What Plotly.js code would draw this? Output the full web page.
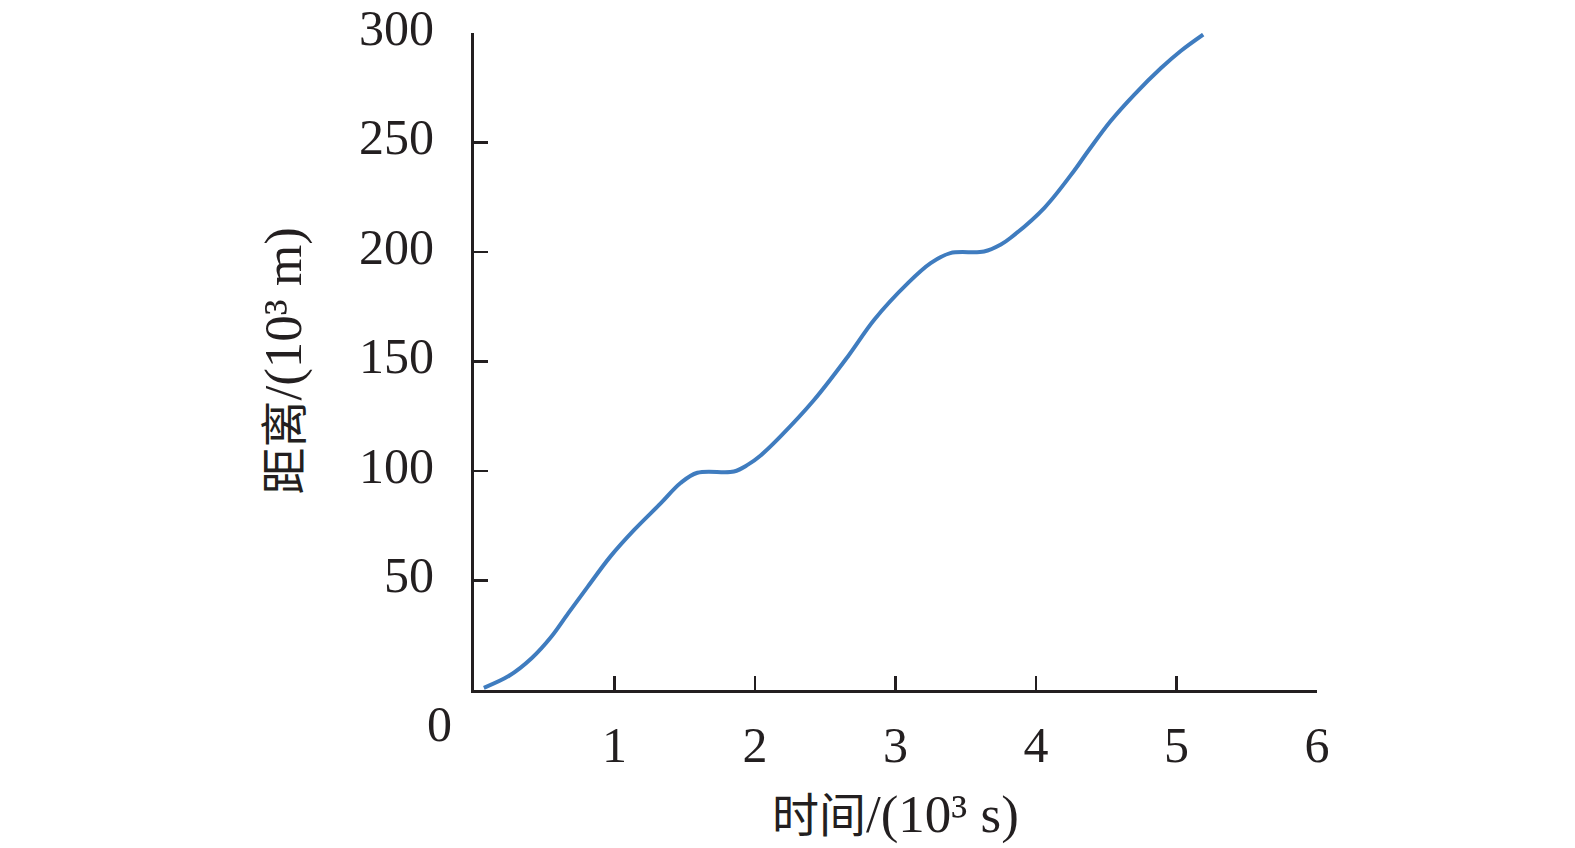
<!DOCTYPE html>
<html>
<head>
<meta charset="utf-8">
<script src="https://cdn.plot.ly/plotly-3.0.1.min.js"></script>
<style>html,body{margin:0;padding:0;background:#fff;}#chart{width:1575px;height:848px;}</style>
</head>
<body>
<div id="chart"></div>
<script>
// time (10^3 s)
const timeVals = [0.07, 0.25, 0.41, 0.55, 0.67, 0.81, 0.97, 1.14, 1.33, 1.47, 1.59, 1.85, 1.95, 2.04, 2.18, 2.42, 2.66, 2.85, 3.09, 3.25, 3.39, 3.63, 3.75, 3.82, 4.06, 4.27, 4.37, 4.53, 4.70, 4.89, 5.03, 5.19];
// distance (10^3 m)
const distVals = [1.0, 6.5, 14.5, 24.3, 35.0, 47.2, 60.9, 73.1, 85.3, 94.5, 99.2, 99.8, 102.9, 107.1, 115.7, 132.4, 152.2, 169.2, 185.9, 194.9, 199.5, 200.2, 203.4, 206.5, 220.2, 237.0, 246.0, 259.7, 271.9, 284.0, 291.8, 299.3];
const xTicks = [1, 2, 3, 4, 5, 6];
const yTicks = [50, 100, 150, 200, 250, 300];
const xTitle = '<span style="font-size:47px">时间</span>/(10³ s)';
const yTitle = '<span style="font-size:47px">距离</span>/(10³ m)';
const originLabel = '0';

const fontFam = '"Liberation Serif", "Times New Roman", "Noto Sans CJK SC", serif';
const axisColor = '#231f20';

const trace = {
  x: timeVals, y: distVals, type: 'scatter', mode: 'lines',
  line: {color: '#3f7cbf', width: 4, shape: 'spline', smoothing: 1},
  hoverinfo: 'skip'
};

const layout = {
  width: 1575, height: 848,
  margin: {l: 474, r: 258, t: 33, b: 158, pad: 0},
  paper_bgcolor: '#fff', plot_bgcolor: '#fff',
  showlegend: false,
  font: {family: fontFam, size: 50, color: '#231f20'},
  xaxis: {
    range: [0, 6], tickvals: xTicks, ticktext: xTicks.map(String),
    ticks: 'inside', ticklen: 14, tickwidth: 2.5, tickcolor: axisColor,
    showline: true, linecolor: axisColor, linewidth: 3,
    showgrid: false, zeroline: false, fixedrange: true,
    ticklabelstandoff: 9,
    tickfont: {family: fontFam, size: 50, color: '#231f20'}
  },
  yaxis: {
    range: [0, 300], tickvals: yTicks, ticktext: yTicks.map(String),
    ticks: 'inside', ticklen: 14, tickwidth: 2.5, tickcolor: axisColor,
    showline: true, linecolor: axisColor, linewidth: 3,
    showgrid: false, zeroline: false, fixedrange: true,
    ticklabelstandoff: 27, ticklabelshift: -6, ticklabeloverflow: 'allow',
    tickfont: {family: fontFam, size: 50, color: '#231f20'}
  },
  annotations: [
    {text: originLabel, xref: 'x', yref: 'y', x: 0, y: 0, xanchor: 'center', yanchor: 'middle',
     xshift: -35, yshift: -34, showarrow: false, font: {family: fontFam, size: 50, color: '#231f20'}},
    {text: xTitle, xref: 'paper', yref: 'paper', x: 0.5, y: 0, xanchor: 'center', yanchor: 'middle',
     yshift: -124, showarrow: false, font: {family: fontFam, size: 53, color: '#231f20'}},
    {text: yTitle, xref: 'paper', yref: 'paper', x: 0, y: 0.5, xanchor: 'center', yanchor: 'middle',
     xshift: -191, textangle: -90, showarrow: false, font: {family: fontFam, size: 53, color: '#231f20'}}
  ]
};

Plotly.newPlot('chart', [trace], layout, {displayModeBar: false, staticPlot: true});
</script>
</body>
</html>
